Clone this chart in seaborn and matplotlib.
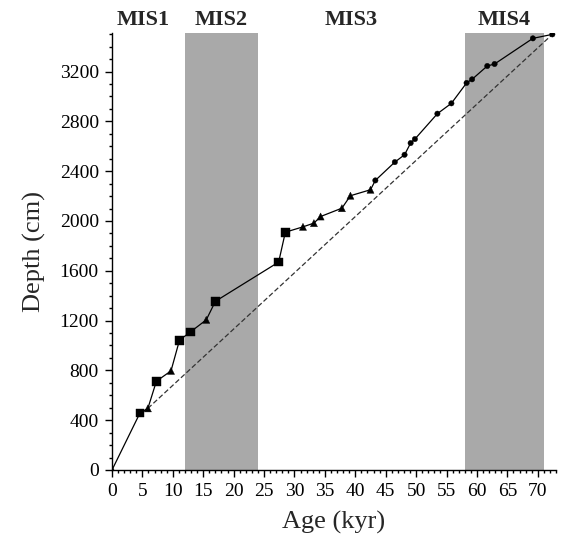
import numpy as np
import pandas as pd
import matplotlib
matplotlib.use("Agg")
import matplotlib.pyplot as plt
from matplotlib.ticker import MultipleLocator
import seaborn as sns

# ---- data ----
age = [0, 4.6, 5.9, 7.3, 9.7, 11.1, 12.9, 15.5, 17.0, 27.4, 28.5, 31.4, 33.2, 34.3,
       37.8, 39.2, 42.5, 43.3, 46.5, 48.1, 49.1, 49.8, 53.5, 55.8, 58.3, 59.2,
       61.7, 62.9, 69.2, 72.4]
depth = [0, 458, 495, 713, 796, 1043, 1109, 1206, 1355, 1670, 1910, 1953, 1983, 2036,
         2103, 2203, 2251, 2326, 2473, 2532, 2626, 2658, 2862, 2945, 3109, 3138,
         3245, 3261, 3467, 3499]
kind = ["origin", "square", "triangle", "square", "triangle", "square", "square",
        "triangle", "square", "square", "square", "triangle", "triangle", "triangle",
        "triangle", "triangle", "triangle", "circle", "circle", "circle", "circle",
        "circle", "circle", "circle", "circle", "circle", "circle", "circle",
        "circle", "circle"]

# linear reference line (dashed)
ref_age = [5.9, 72.4]
ref_depth = [495, 3499]

# marine isotope stages
mis_labels = ["MIS1", "MIS2", "MIS3", "MIS4"]
mis_label_x = [5.1, 18.0, 39.4, 64.5]
shaded_start = [12, 58]
shaded_end = [24, 71]

x_ticks = list(range(0, 75, 5))
y_ticks = list(range(0, 3600, 400))

df = pd.DataFrame({"age": age, "depth": depth, "kind": kind})
ref = pd.DataFrame({"age": ref_age, "depth": ref_depth})

sns.set_style("ticks")
plt.rcParams["font.family"] = ["Liberation Serif", "DejaVu Serif"]

fig = plt.figure(figsize=(5.64, 5.45), dpi=100)
ax = fig.add_axes([112 / 564, 1 - 470 / 545, (556 - 112) / 564, (470 - 33) / 545])

for s, e in zip(shaded_start, shaded_end):
    ax.axvspan(s, e, color="#a9a9a9", lw=0, zorder=0)

sns.lineplot(data=ref, x="age", y="depth", ax=ax, color="#333333", lw=0.9,
             linestyle=(0, (4, 2)), sort=False, zorder=2)
sns.lineplot(data=df, x="age", y="depth", ax=ax, color="black", lw=0.9,
             sort=False, estimator=None, zorder=3)
sns.scatterplot(data=df, x="age", y="depth", style="kind", size="kind", ax=ax,
                markers={"origin": "o", "square": "s", "triangle": "^", "circle": "o"},
                sizes={"origin": 8, "square": 40, "triangle": 26, "circle": 15},
                color="black", edgecolor="black", linewidth=0.3, legend=False, zorder=4)

ax.set_xlim(0, 73)
ax.set_ylim(0, 3510)
ax.set_xticks(x_ticks)
ax.set_yticks(y_ticks)
ax.xaxis.set_minor_locator(MultipleLocator(1))
ax.yaxis.set_minor_locator(MultipleLocator(100))
ax.tick_params(axis="both", which="major", direction="out", length=5, width=1,
               labelsize=14, pad=4.5, color="black", labelcolor="black")
ax.tick_params(axis="both", which="minor", direction="out", length=2.5, width=1, color="black")

for sp in ["top", "right"]:
    ax.spines[sp].set_visible(False)
for sp in ["left", "bottom"]:
    ax.spines[sp].set_color("black")
    ax.spines[sp].set_linewidth(1)

ax.set_xlabel("Age (kyr)", fontsize=19, labelpad=8)
ax.set_ylabel("Depth (cm)", fontsize=19, labelpad=10)

for lab, x in zip(mis_labels, mis_label_x):
    ax.text(x, 1.030, lab, transform=ax.get_xaxis_transform(), ha="center",
            va="center", fontsize=16, fontweight="bold", clip_on=False)

fig.savefig("out.png", dpi=100)
